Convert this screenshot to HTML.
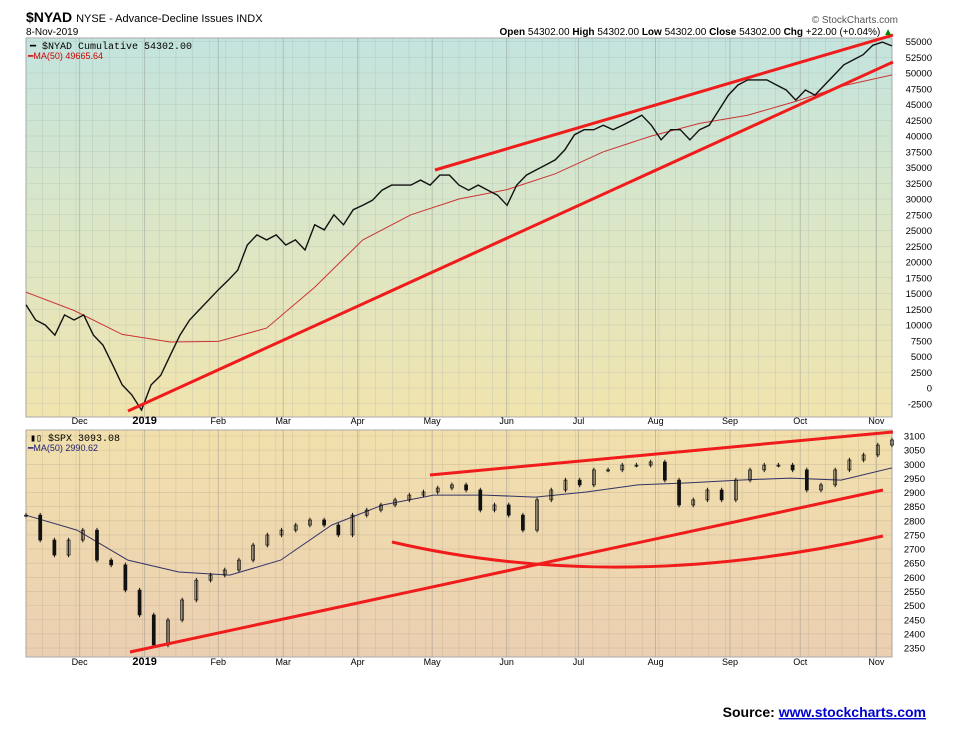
<!DOCTYPE html>
<html><head><meta charset="utf-8"><style>
body{margin:0;background:#fff;font-family:"Liberation Sans",sans-serif}
#wrap{position:relative;width:956px;height:743px;overflow:hidden}
</style></head><body><div id="wrap">
<svg id="svg" width="956" height="743" xmlns="http://www.w3.org/2000/svg">
<defs>
<linearGradient id="g1" x1="0" y1="0" x2="0" y2="1"><stop offset="0" stop-color="#c3e4de"/><stop offset="0.5" stop-color="#dbe6c6"/><stop offset="1" stop-color="#f1e4ae"/></linearGradient>
<linearGradient id="g2" x1="0" y1="0" x2="0" y2="1"><stop offset="0" stop-color="#f1e0ac"/><stop offset="1" stop-color="#ebcfb2"/></linearGradient>
</defs>
<rect x="26" y="38" width="866" height="379" fill="url(#g1)" stroke="#aaa"/>
<rect x="26" y="430" width="866" height="227" fill="url(#g2)" stroke="#aaa"/>
<g id="grid"></g><g id="marks"></g>
<text x="26" y="22" font-size="14" font-weight="bold">$NYAD <tspan font-size="11" font-weight="normal">NYSE - Advance-Decline Issues INDX</tspan></text>
<text x="26" y="35" font-size="10">8-Nov-2019</text>
<text x="898" y="23" font-size="10" fill="#555" text-anchor="end">© StockCharts.com</text>
<text x="893" y="35" font-size="10" text-anchor="end"><tspan font-weight="bold">Open</tspan> 54302.00 <tspan font-weight="bold">High</tspan> 54302.00 <tspan font-weight="bold">Low</tspan> 54302.00 <tspan font-weight="bold">Close</tspan> 54302.00 <tspan font-weight="bold">Chg</tspan> +22.00 (+0.04%) <tspan fill="#080">▲</tspan></text>
<text x="30" y="49" font-size="10" font-family="Liberation Mono,monospace">━ $NYAD Cumulative 54302.00</text>
<text x="28" y="59" font-size="9" fill="#c00">━MA(50) 49665.64</text>
<text x="30" y="441" font-size="10" font-family="Liberation Mono,monospace">▮▯ $SPX 3093.08</text>
<text x="28" y="451" font-size="9" fill="#227">━MA(50) 2990.62</text>
<text x="926" y="717" font-size="14" font-weight="bold" text-anchor="end">Source: <tspan fill="#00c" text-decoration="underline">www.stockcharts.com</tspan></text>
</svg></div>
<script>
const nyad=[13.2,10.8,10,8.4,11.6,10.8,11.6,8.4,6.8,3.7,0.5,-1.1,-3.5,0.5,2,5.2,8.4,10.8,12.4,14,15.6,17.1,18.7,22.7,24.3,23.5,24.3,22.7,23.5,21.9,25.9,25.1,27.5,25.9,28.3,29,29.8,31.4,32.2,32.2,32.2,33,32.2,33.8,33.8,32.2,31.4,32.2,31.4,30.6,29,32.2,33.8,34.6,35.4,36.2,37.8,40.2,41,41,41.7,41,41.7,42.5,43.3,41.7,39.4,41,41,39.4,41,41.7,44.1,46.5,48.1,48.9,48.9,48.9,48.1,47.3,45.7,47.3,46.5,48.1,49.7,51.3,52.1,52.9,54.4,54.9,54.3];
const nyadMA=[15.2,12.3,8.5,7.3,7.4,9.5,16,23.5,27.5,30,31.5,34,37.5,40,42,43.3,45.5,48,49.7];
const spx=[2820,2732,2679,2732,2767,2661,2644,2555,2467,2361,2449,2520,2590,2608,2626,2661,2714,2750,2767,2785,2803,2785,2750,2820,2838,2856,2874,2891,2902,2916,2927,2909,2838,2856,2820,2767,2874,2909,2944,2927,2980,2980,2997,2997,3008,2944,2856,2874,2909,2874,2944,2980,2997,2997,2980,2909,2927,2980,3015,3033,3068,3086];
const spxMA=[2820,2767,2661,2619,2608,2661,2785,2856,2891,2891,2884,2902,2927,2934,2944,2951,2944,2987];
const nyadTicks=[55000,52500,50000,47500,45000,42500,40000,37500,35000,32500,30000,27500,25000,22500,20000,17500,15000,12500,10000,7500,5000,2500,0,-2500];
const spxTicks=[3100,3050,3000,2950,2900,2850,2800,2750,2700,2650,2600,2550,2500,2450,2400,2350];
const months=["Dec","2019","Feb","Mar","Apr","May","Jun","Jul","Aug","Sep","Oct","Nov"];
const monthPos=[0.062,0.137,0.222,0.297,0.383,0.469,0.555,0.638,0.727,0.813,0.894,0.982];
const NS="http://www.w3.org/2000/svg";
const X0=26,X1=892;
const fx=f=>X0+f*(X1-X0);
const y1=v=>388-v*6.3/1000;
const y2=v=>436+(3100-v)*0.2827;
const grid=document.getElementById('grid'),marks=document.getElementById('marks');
function el(t,a,p){const e=document.createElementNS(NS,t);for(const k in a)e.setAttribute(k,a[k]);(p||marks).appendChild(e);return e;}
for(let i=0;i<=52;i++){const x=fx(i/52);
 const l1=el('line',{x1:x,x2:x,y1:38,y2:417,stroke:'#9aa',"stroke-opacity":0.35,"stroke-width":0.6},grid);
 
 const l2=el('line',{x1:x,x2:x,y1:430,y2:657,stroke:'#a98',"stroke-opacity":0.35,"stroke-width":0.6},grid);
 }
months.forEach((m,i)=>{const x=fx(monthPos[i]);
 [[38,417],[430,657]].forEach(r=>{const l=el('line',{x1:x,x2:x,y1:r[0],y2:r[1],stroke:'#888',"stroke-opacity":0.5,"stroke-width":0.8},grid);
 });
 [424,665].forEach(y=>{const t=el('text',{x:x,y:y,"font-size":m=="2019"?11:9,"font-weight":m=="2019"?"bold":"normal","text-anchor":"middle"});t.textContent=m;
 });});
nyadTicks.forEach(v=>{const y=y1(v);
 const l=el('line',{x1:X0,x2:X1,y1:y,y2:y,stroke:'#9aa',"stroke-opacity":0.4,"stroke-width":0.6},grid);
 
 const t=el('text',{x:932,y:y+3.5,"font-size":9.5,"text-anchor":"end"});t.textContent=v;
 });
spxTicks.forEach(v=>{const y=y2(v);
 const l=el('line',{x1:X0,x2:X1,y1:y,y2:y,stroke:'#a98',"stroke-opacity":0.4,"stroke-width":0.6},grid);
 
 const t=el('text',{x:925,y:y+3.5,"font-size":9.5,"text-anchor":"end"});t.textContent=v;
 });
function path(arr,yf){return arr.map((v,i)=>(i?'L':'M')+fx(i/(arr.length-1)).toFixed(1)+' '+yf(v).toFixed(1)).join(' ');}
let p=el('path',{d:path(nyadMA,v=>y1(v*1000)),fill:'none',stroke:'#c33',"stroke-width":1});

p=el('path',{d:path(nyad,v=>y1(v*1000)),fill:'none',stroke:'#111',"stroke-width":1.4});

p=el('path',{d:path(spxMA,y2),fill:'none',stroke:'#336',"stroke-width":1});

spx.forEach((v,i)=>{const x=fx(i/(spx.length-1));const prev=i?spx[i-1]:v;
 const hi=Math.max(v,prev)+8,lo=Math.min(v,prev)-8;
 const w=el('line',{x1:x,x2:x,y1:y2(hi),y2:y2(lo),stroke:'#111',"stroke-width":1});
 
 const b=el('rect',{x:x-1.5,y:y2(Math.max(v,prev)),width:3,height:Math.max(1,Math.abs(y2(v)-y2(prev))),fill:v<prev?'#111':'none',stroke:'#111',"stroke-width":0.7});
 });
const red={stroke:'#f01c1c',"stroke-width":3,fill:'none'};
[[128,411,893,62],[435,170,893,35],[430,475,893,432],[130,652,883,490]].forEach(c=>{
 const l=el('line',Object.assign({x1:c[0],y1:c[1],x2:c[2],y2:c[3]},red));
 });
p=el('path',Object.assign({d:'M392 542 Q620 595 883 536'},red));

</script></body></html>
